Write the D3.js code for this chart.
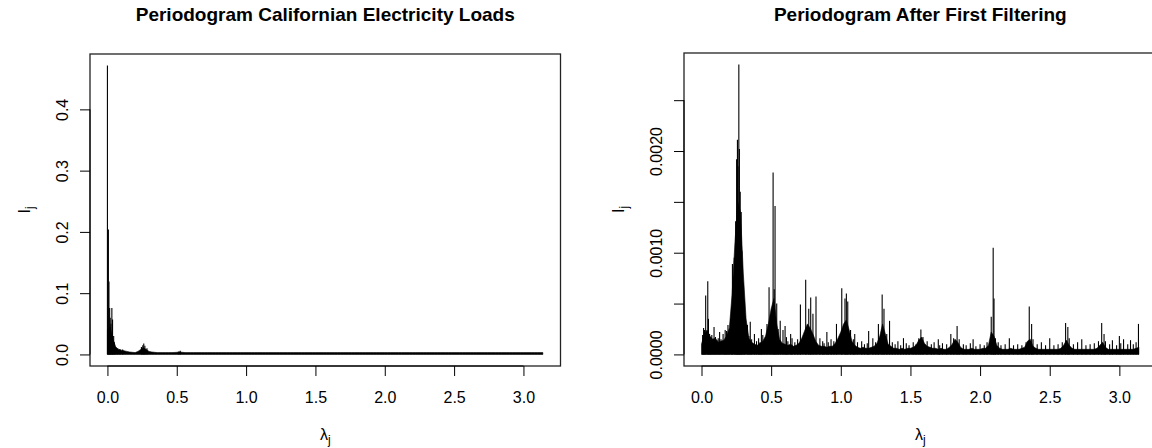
<!DOCTYPE html>
<html>
<head>
<meta charset="utf-8">
<script src="https://cdn.jsdelivr.net/npm/d3@7"></script>
<style>
  body { margin: 0; background: #fff; }
  svg text { font-family: "Liberation Sans", Arial, Helvetica, sans-serif; fill: #000; }
</style>
</head>
<body>
<div id="chart"></div>
<script>
// frequency grid of the noise floor (step 0.02 from 0 to 3.14)
const floorStep = 0.02;

// ---- left panel: raw loads, I_j values ----
const floorL = [
  0.040, 0.045, 0.025, 0.012, 0.008, 0.007, 0.006, 0.005, 0.004, 0.0035,
  0.003, 0.005, 0.008, 0.011, 0.008, 0.005, 0.004, 0.0035, 0.003, 0.003,
  0.003, 0.003, 0.003, 0.003, 0.0032, 0.0035, 0.004, 0.0035, 0.003, 0.003,
  0.003, 0.003, 0.003, 0.003, 0.003, 0.003, 0.003, 0.003, 0.003, 0.003,
  0.003, 0.003, 0.003, 0.003, 0.003, 0.003, 0.003, 0.003, 0.003, 0.003,
  0.003, 0.003, 0.003, 0.003, 0.003, 0.003, 0.003, 0.003, 0.003, 0.003,
  0.003, 0.003, 0.003, 0.003, 0.003, 0.003, 0.003, 0.003, 0.003, 0.003,
  0.003, 0.003, 0.003, 0.003, 0.003, 0.003, 0.003, 0.003, 0.003, 0.003,
  0.003, 0.003, 0.003, 0.003, 0.003, 0.003, 0.003, 0.003, 0.003, 0.003,
  0.003, 0.003, 0.003, 0.003, 0.003, 0.003, 0.003, 0.003, 0.003, 0.003,
  0.003, 0.003, 0.003, 0.003, 0.003, 0.003, 0.003, 0.003, 0.003, 0.003,
  0.003, 0.003, 0.003, 0.003, 0.003, 0.003, 0.003, 0.003, 0.003, 0.003,
  0.003, 0.003, 0.003, 0.003, 0.003, 0.003, 0.003, 0.003, 0.003, 0.003,
  0.003, 0.003, 0.003, 0.003, 0.003, 0.003, 0.003, 0.003, 0.003, 0.003,
  0.003, 0.003, 0.003, 0.003, 0.003, 0.003, 0.003, 0.003, 0.003, 0.003,
  0.003, 0.003, 0.003, 0.003, 0.003, 0.003, 0.003, 0.003
];
const spikesL = [
  [0.000, 0.4715], [0.007, 0.204], [0.011, 0.119], [0.016, 0.076], [0.020, 0.060],
  [0.025, 0.050], [0.032, 0.076], [0.037, 0.057], [0.045, 0.030], [0.050, 0.020],
  [0.060, 0.012], [0.075, 0.010], [0.090, 0.009], [0.110, 0.008],
  [0.245, 0.012], [0.255, 0.015], [0.262, 0.018], [0.270, 0.014], [0.285, 0.010],
  [0.515, 0.005], [0.525, 0.006]
];

// ---- right panel: after first filtering, values in 1e-4 ----
const floorR = [
  1.0, 2.0, 2.4, 1.8, 1.5, 1.6, 1.2, 1.3, 1.4, 1.8,
  2.6, 6.0, 11, 15, 14, 8, 3.5, 1.6, 1.2, 1.0,
  0.9, 1.1, 1.3, 1.8, 3.0, 4.5, 5.5, 3.0, 1.5, 1.1,
  1.0, 0.9, 1.0, 0.8, 0.9, 1.1, 1.6, 2.3, 3.0, 2.6,
  2.0, 1.3, 0.9, 0.8, 0.8, 0.7, 0.8, 0.8, 1.1, 1.6,
  2.2, 3.0, 3.4, 2.4, 1.3, 0.9, 0.7, 0.6, 0.7, 0.6,
  0.6, 0.7, 0.8, 1.1, 1.8, 3.0, 2.0, 1.0, 0.8, 0.6,
  0.6, 0.5, 0.6, 0.5, 0.6, 0.6, 0.7, 0.9, 1.4, 1.7,
  1.1, 0.8, 0.7, 0.6, 0.6, 0.5, 0.6, 0.5, 0.5, 0.7,
  1.0, 1.5, 1.2, 0.7, 0.5, 0.5, 0.5, 0.6, 0.5, 0.5,
  0.5, 0.6, 0.6, 0.9, 2.2, 1.8, 0.9, 0.6, 0.5, 0.5,
  0.5, 0.6, 0.5, 0.5, 0.5, 0.6, 0.7, 1.3, 1.5, 0.8,
  0.6, 0.5, 0.5, 0.5, 0.5, 0.5, 0.5, 0.5, 0.5, 0.6,
  0.9, 1.4, 0.9, 0.6, 0.5, 0.5, 0.5, 0.5, 0.5, 0.5,
  0.5, 0.5, 0.6, 0.9, 1.2, 0.7, 0.5, 0.5, 0.5, 0.5,
  0.5, 0.5, 0.5, 0.5, 0.5, 0.5, 0.6, 0.7
];
const spikesR = [
  // tall peaks
  [0.030, 5.8], [0.045, 7.2], [0.050, 3.5], [0.215, 4.0], [0.222, 8.9], [0.235, 9.5],
  [0.245, 13.1], [0.252, 19.2], [0.258, 21.1], [0.262, 18.5], [0.268, 28.5], [0.272, 20.2],
  [0.278, 16.0], [0.285, 14.0], [0.290, 10.2], [0.300, 5.0], [0.470, 3.0], [0.485, 6.6],
  [0.500, 4.0], [0.514, 17.9], [0.522, 6.4], [0.528, 14.6], [0.540, 5.0], [0.710, 4.9],
  [0.748, 7.35], [0.770, 4.5], [0.784, 5.6], [0.800, 4.0], [0.822, 5.7], [0.969, 3.0],
  [1.007, 6.5], [1.030, 5.5], [1.040, 6.0], [1.050, 5.2], [1.297, 5.9], [1.310, 4.5],
  [2.080, 3.7], [2.094, 10.5], [2.100, 5.5], [2.353, 4.7], [2.614, 3.1], [2.873, 3.1],
  [3.137, 3.0],
  // small spikes on the noise floor
  [0.008, 1.9], [0.015, 2.6], [0.022, 2.4], [0.058, 2.0], [0.066, 1.6], [0.074, 1.9],
  [0.082, 1.5], [0.090, 2.7], [0.100, 1.7], [0.110, 1.4], [0.120, 1.6], [0.130, 2.2],
  [0.140, 1.5], [0.155, 2.0], [0.165, 1.4], [0.170, 2.4], [0.180, 2.3], [0.190, 2.9],
  [0.200, 2.0], [0.310, 2.2], [0.330, 2.9], [0.340, 1.8], [0.350, 3.2], [0.360, 1.5],
  [0.380, 2.0], [0.395, 1.3], [0.410, 1.6], [0.420, 1.2], [0.430, 2.5], [0.440, 1.9],
  [0.455, 1.4], [0.550, 2.5], [0.565, 3.3], [0.585, 2.4], [0.600, 2.8], [0.610, 1.7],
  [0.620, 1.3], [0.640, 2.0], [0.650, 1.6], [0.670, 1.2], [0.690, 1.5], [0.850, 1.6],
  [0.870, 1.3], [0.880, 1.1], [0.900, 2.2], [0.910, 1.2], [0.930, 1.5], [0.950, 1.3],
  [1.070, 2.4], [1.090, 1.5], [1.100, 2.0], [1.120, 1.2], [1.150, 1.3], [1.170, 1.0],
  [1.190, 1.1], [1.200, 2.3], [1.230, 1.6], [1.250, 1.2], [1.270, 3.0], [1.330, 2.0],
  [1.350, 3.3], [1.370, 1.2], [1.390, 1.0], [1.410, 1.3], [1.430, 0.9], [1.450, 1.6],
  [1.470, 1.1], [1.490, 0.9], [1.520, 1.2], [1.540, 1.0], [1.560, 1.6], [1.575, 2.45],
  [1.590, 1.7], [1.620, 1.3], [1.650, 1.0], [1.670, 1.2], [1.700, 1.5], [1.710, 0.9],
  [1.730, 1.1], [1.760, 1.0], [1.790, 2.0], [1.810, 1.6], [1.835, 2.8], [1.850, 1.5],
  [1.880, 1.0], [1.900, 0.9], [1.930, 1.1], [1.950, 1.5], [1.970, 0.8], [2.000, 1.0],
  [2.030, 0.9], [2.050, 1.2], [2.110, 1.6], [2.130, 1.2], [2.150, 0.9], [2.180, 1.0],
  [2.210, 1.6], [2.240, 0.9], [2.270, 1.0], [2.300, 0.9], [2.330, 1.2], [2.370, 3.0],
  [2.380, 1.5], [2.410, 1.0], [2.440, 1.2], [2.470, 0.9], [2.500, 1.6], [2.530, 0.9],
  [2.560, 1.0], [2.590, 1.2], [2.630, 2.7], [2.640, 1.6], [2.670, 1.0], [2.700, 1.2],
  [2.730, 1.5], [2.760, 0.9], [2.790, 1.0], [2.820, 1.1], [2.850, 1.3], [2.890, 2.0],
  [2.900, 1.3], [2.930, 1.0], [2.950, 1.4], [2.980, 0.9], [3.000, 1.8], [3.010, 1.1],
  [3.030, 1.5], [3.060, 1.0], [3.080, 1.4], [3.100, 1.0], [3.120, 1.2]
];

// axis ticks
const xTicks = [0, 0.5, 1.0, 1.5, 2.0, 2.5, 3.0];
const yTicksL = [0, 0.1, 0.2, 0.3, 0.4];
const yTicksR = [0, 0.0005, 0.0010, 0.0015, 0.0020, 0.0025];
const yLabelsR = [0, 0.0010, 0.0020];

const titles = ["Periodogram Californian Electricity Loads", "Periodogram After First Filtering"];

const width = 1152, height = 448;
const svg = d3.select("#chart").append("svg")
  .attr("width", width).attr("height", height);

function panel(box, floorVals, spikes, scaleK, yTicks, yLabelFmt, title) {
  const floorData = floorVals.map((v, i) => [i * floorStep, v * scaleK]);
  const spikeData = spikes.map(d => [d[0], d[1] * scaleK]);
  const yMax = d3.max(floorData.concat(spikeData), d => d[1]);
  const pad = 0.04;

  const x = d3.scaleLinear()
    .domain([-pad * Math.PI, Math.PI * (1 + pad)])
    .range([box.left, box.right]);
  const y = d3.scaleLinear()
    .domain([-pad * yMax, yMax * (1 + pad)])
    .range([box.bottom, box.top]);

  const g = svg.append("g");

  // floor of the periodogram (dense vertical lines)
  g.append("path")
    .datum(floorData)
    .attr("fill", "#000")
    .attr("stroke", "#000").attr("stroke-width", 0.6)
    .attr("d", d3.area().x(d => x(d[0])).y0(y(0)).y1(d => y(d[1])));

  g.selectAll(".spike")
    .data(spikeData)
    .enter()
    .append("line")
    .attr("class", "spike")
    .attr("x1", d => x(d[0])).attr("x2", d => x(d[0]))
    .attr("y1", y(0)).attr("y2", d => y(d[1]))
    .attr("stroke", "#000").attr("stroke-width", 1.1);

  // box
  g.append("rect")
    .attr("x", box.left).attr("y", box.top)
    .attr("width", box.right - box.left).attr("height", box.bottom - box.top)
    .attr("fill", "none").attr("stroke", "#222").attr("stroke-width", 1.3);

  // x axis
  const xAxis = d3.axisBottom(x).tickValues(xTicks).tickSize(10).tickPadding(8)
    .tickFormat(d3.format(".1f"));
  const xg = g.append("g")
    .attr("transform", `translate(0,${box.bottom})`)
    .call(xAxis);
  xg.select(".domain").remove();
  xg.append("line")
    .attr("x1", x(xTicks[0])).attr("x2", x(xTicks[xTicks.length - 1]))
    .attr("stroke", "#000");
  xg.selectAll("text").attr("font-size", 16).attr("fill", "#000")
    .attr("dy", null).attr("y", 37);

  // y axis
  const yAxis = d3.axisLeft(y).tickValues(yTicks).tickSize(10).tickFormat(yLabelFmt);
  const yg = g.append("g")
    .attr("transform", `translate(${box.left},0)`)
    .call(yAxis);
  yg.select(".domain").remove();
  yg.append("line")
    .attr("y1", y(yTicks[0])).attr("y2", y(yTicks[yTicks.length - 1]))
    .attr("stroke", "#000");
  yg.selectAll("text")
    .attr("font-size", 16).attr("fill", "#000")
    .attr("x", null).attr("dy", null)
    .attr("text-anchor", "middle")
    .attr("transform", "translate(-22,0) rotate(-90)");

  const cx = (box.left + box.right) / 2;
  const cy = (box.top + box.bottom) / 2;

  // title
  svg.append("text")
    .attr("x", cx).attr("y", 21)
    .attr("text-anchor", "middle")
    .attr("font-size", 19).attr("font-weight", "bold")
    .text(title);

  // x label: lambda_j
  const xl = svg.append("text")
    .attr("x", cx).attr("y", 440)
    .attr("text-anchor", "middle")
    .attr("font-size", 16);
  xl.append("tspan").text("\u03BB");
  xl.append("tspan").attr("font-size", 12).attr("dy", 4).text("j");

  // y label: I_j
  const yl = svg.append("text")
    .attr("transform", `translate(${box.left - 60},${cy}) rotate(-90)`)
    .attr("text-anchor", "middle")
    .attr("font-size", 16);
  yl.append("tspan").text("I");
  yl.append("tspan").attr("font-size", 12).attr("dy", 4).text("j");
}

panel({left: 90, right: 560.5, top: 54, bottom: 366}, floorL, spikesL, 1, yTicksL,
  d3.format(".1f"), titles[0]);
panel({left: 684, right: 1156.6, top: 53, bottom: 366}, floorR, spikesR, 1e-4, yTicksR,
  d => yLabelsR.includes(d) ? d3.format(".4f")(d) : "", titles[1]);
</script>
</body>
</html>
